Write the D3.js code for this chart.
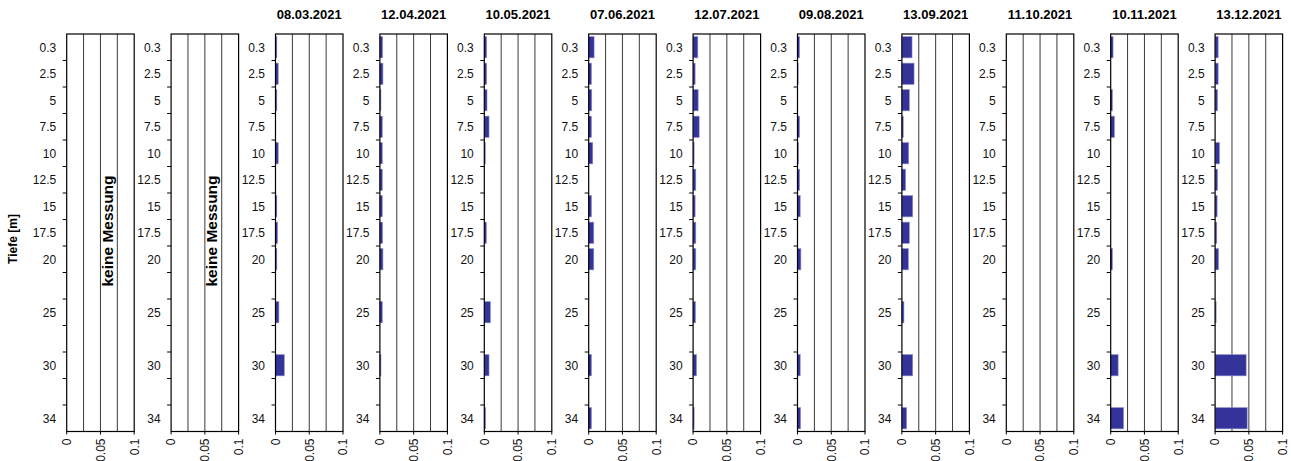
<!DOCTYPE html>
<html>
<head>
<meta charset="utf-8">
<script src="https://cdn.jsdelivr.net/npm/d3@7"></script>
<style>
body { margin: 0; background: #fff; }
svg { display: block; font-family: "Liberation Sans", Arial, sans-serif; }
</style>
</head>
<body>
<div id="chart"></div>
<script>
// 1. DATA
const depths = ["0.3", "2.5", "5", "7.5", "10", "12.5", "15", "17.5", "20", "25", "30", "34"];
// the depth axis also has empty slots between 20, 25, 30 and 34
const depthSlots = ["0.3", "2.5", "5", "7.5", "10", "12.5", "15", "17.5", "20", "22.5", "25", "27.5", "30", "32.5", "34"];
const dates = ["", "", "08.03.2021", "12.04.2021", "10.05.2021", "07.06.2021", "12.07.2021",
    "09.08.2021", "13.09.2021", "11.10.2021", "10.11.2021", "13.12.2021"];
const xTicks = [0, 0.05, 0.1];
const gridTicks = [0.025, 0.05, 0.075];

// values per date, in the order of depths
const v0803 = [0.002, 0.004, 0.002, 0, 0.004, 0, 0.002, 0.003, 0.002, 0.005, 0.013, 0];
const v1204 = [0.004, 0.0045, 0.0015, 0.0035, 0.0035, 0.0035, 0.0035, 0.004, 0.0045, 0.0035, 0.0015, 0];
const v1005 = [0.0035, 0.0035, 0.004, 0.007, 0.0015, 0, 0, 0.003, 0.0005, 0.009, 0.007, 0.002];
const v0706 = [0.008, 0.004, 0.0045, 0.004, 0.006, 0, 0.004, 0.0075, 0.0075, 0, 0.004, 0.004];
const v1207 = [0.007, 0.003, 0.0075, 0.009, 0.0015, 0.004, 0.003, 0.004, 0.004, 0.0035, 0.005, 0.0015];
const v0908 = [0.003, 0.001, 0, 0.003, 0.0015, 0.003, 0.004, 0, 0.005, 0, 0.004, 0.0045];
const v1309 = [0.015, 0.018, 0.011, 0.002, 0.01, 0.0055, 0.016, 0.011, 0.0095, 0.003, 0.016, 0.007];
const v1110 = [0, 0, 0, 0, 0, 0, 0, 0, 0, 0, 0, 0];
const v1011 = [0.0035, 0, 0.0025, 0.0055, 0, 0, 0, 0, 0.0025, 0, 0.011, 0.019];
const v1312 = [0.0045, 0.0045, 0.0035, 0, 0.0065, 0.0035, 0.003, 0.0025, 0.005, 0.0015, 0.046, 0.0475];
const series = [null, null, v0803, v1204, v1005, v0706, v1207, v0908, v1309, v1110, v1011, v1312];

// 2. SETUP
const width = 1291;
const height = 461;
const plotTop = 34, plotBottom = 431.5;
const firstLeft = 66.7, panelStep = 104.4, panelWidth = 67.5;

const svg = d3.select("#chart")
    .append("svg")
    .attr("width", width)
    .attr("height", height);

const y = d3.scaleBand()
    .domain(depthSlots)
    .range([plotTop, plotBottom])
    .paddingInner(0.2)
    .paddingOuter(0.1);
const step = y.step();
const slotTop = d => y(d) - step * 0.1;

const x = d3.scaleLinear().domain([0, 0.1]).range([0, panelWidth]);

svg.append("text")
    .attr("transform", `translate(17, 239) rotate(-90)`)
    .attr("text-anchor", "middle")
    .style("font-size", "12px").style("font-weight", "bold")
    .text("Tiefe [m]");

// 3. PANELS
dates.forEach((date, i) => {
    const g = svg.append("g").attr("transform", `translate(${firstLeft + i * panelStep}, 0)`);

    // grid lines
    g.selectAll(".grid").data(gridTicks).join("line")
        .attr("x1", d => x(d)).attr("x2", d => x(d))
        .attr("y1", plotTop).attr("y2", plotBottom)
        .attr("stroke", "#3a3a3a").attr("stroke-width", 1);

    // bars
    if (series[i]) {
        g.selectAll(".bar").data(depths.map((d, k) => ({ depth: d, value: series[i][k] })))
            .join("rect")
            .attr("x", x(0))
            .attr("y", d => y(d.depth))
            .attr("width", d => x(d.value) - x(0))
            .attr("height", y.bandwidth())
            .attr("fill", "#333399")
            .attr("stroke", d => d.value > 0 ? "#8c8cd0" : "none")
            .attr("stroke-width", 0.6);
    }

    // frame
    g.append("rect")
        .attr("x", 0).attr("y", plotTop)
        .attr("width", panelWidth).attr("height", plotBottom - plotTop)
        .attr("fill", "none").attr("stroke", "#000").attr("stroke-width", 1.2);

    // depth axis ticks at slot boundaries
    g.selectAll(".ytick").data(depthSlots.slice(1)).join("line")
        .attr("x1", -4).attr("x2", 0)
        .attr("y1", d => slotTop(d)).attr("y2", d => slotTop(d))
        .attr("stroke", "#000");

    g.selectAll(".ylabel").data(depths).join("text")
        .attr("x", -10.5)
        .attr("y", d => y(d) + y.bandwidth() / 2)
        .attr("dy", "0.36em")
        .attr("text-anchor", "end")
        .style("font-size", "12px").style("fill", "#111")
        .text(d => d);

    // value axis
    g.selectAll(".xtick").data(xTicks).join("line")
        .attr("x1", d => x(d)).attr("x2", d => x(d))
        .attr("y1", plotBottom).attr("y2", plotBottom + 3)
        .attr("stroke", "#000");

    g.selectAll(".xlabel").data(xTicks).join("text")
        .attr("transform", d => `translate(${x(d)}, ${plotBottom + 7}) rotate(-90)`)
        .attr("dy", "0.36em")
        .attr("text-anchor", "end")
        .style("font-size", "12px").style("fill", "#111")
        .text(d => d);

    // title
    if (date) {
        g.append("text")
            .attr("x", panelWidth / 2).attr("y", 19)
            .attr("text-anchor", "middle")
            .style("font-size", "13px").style("font-weight", "bold")
            .text(date);
    } else {
        g.append("text")
            .attr("transform", `translate(${panelWidth / 2 + 7}, 231) rotate(-90)`)
            .attr("dy", "0.36em")
            .attr("text-anchor", "middle")
            .style("font-size", "15.5px").style("font-weight", "bold")
            .text("keine Messung");
    }
});
</script>
</body>
</html>
